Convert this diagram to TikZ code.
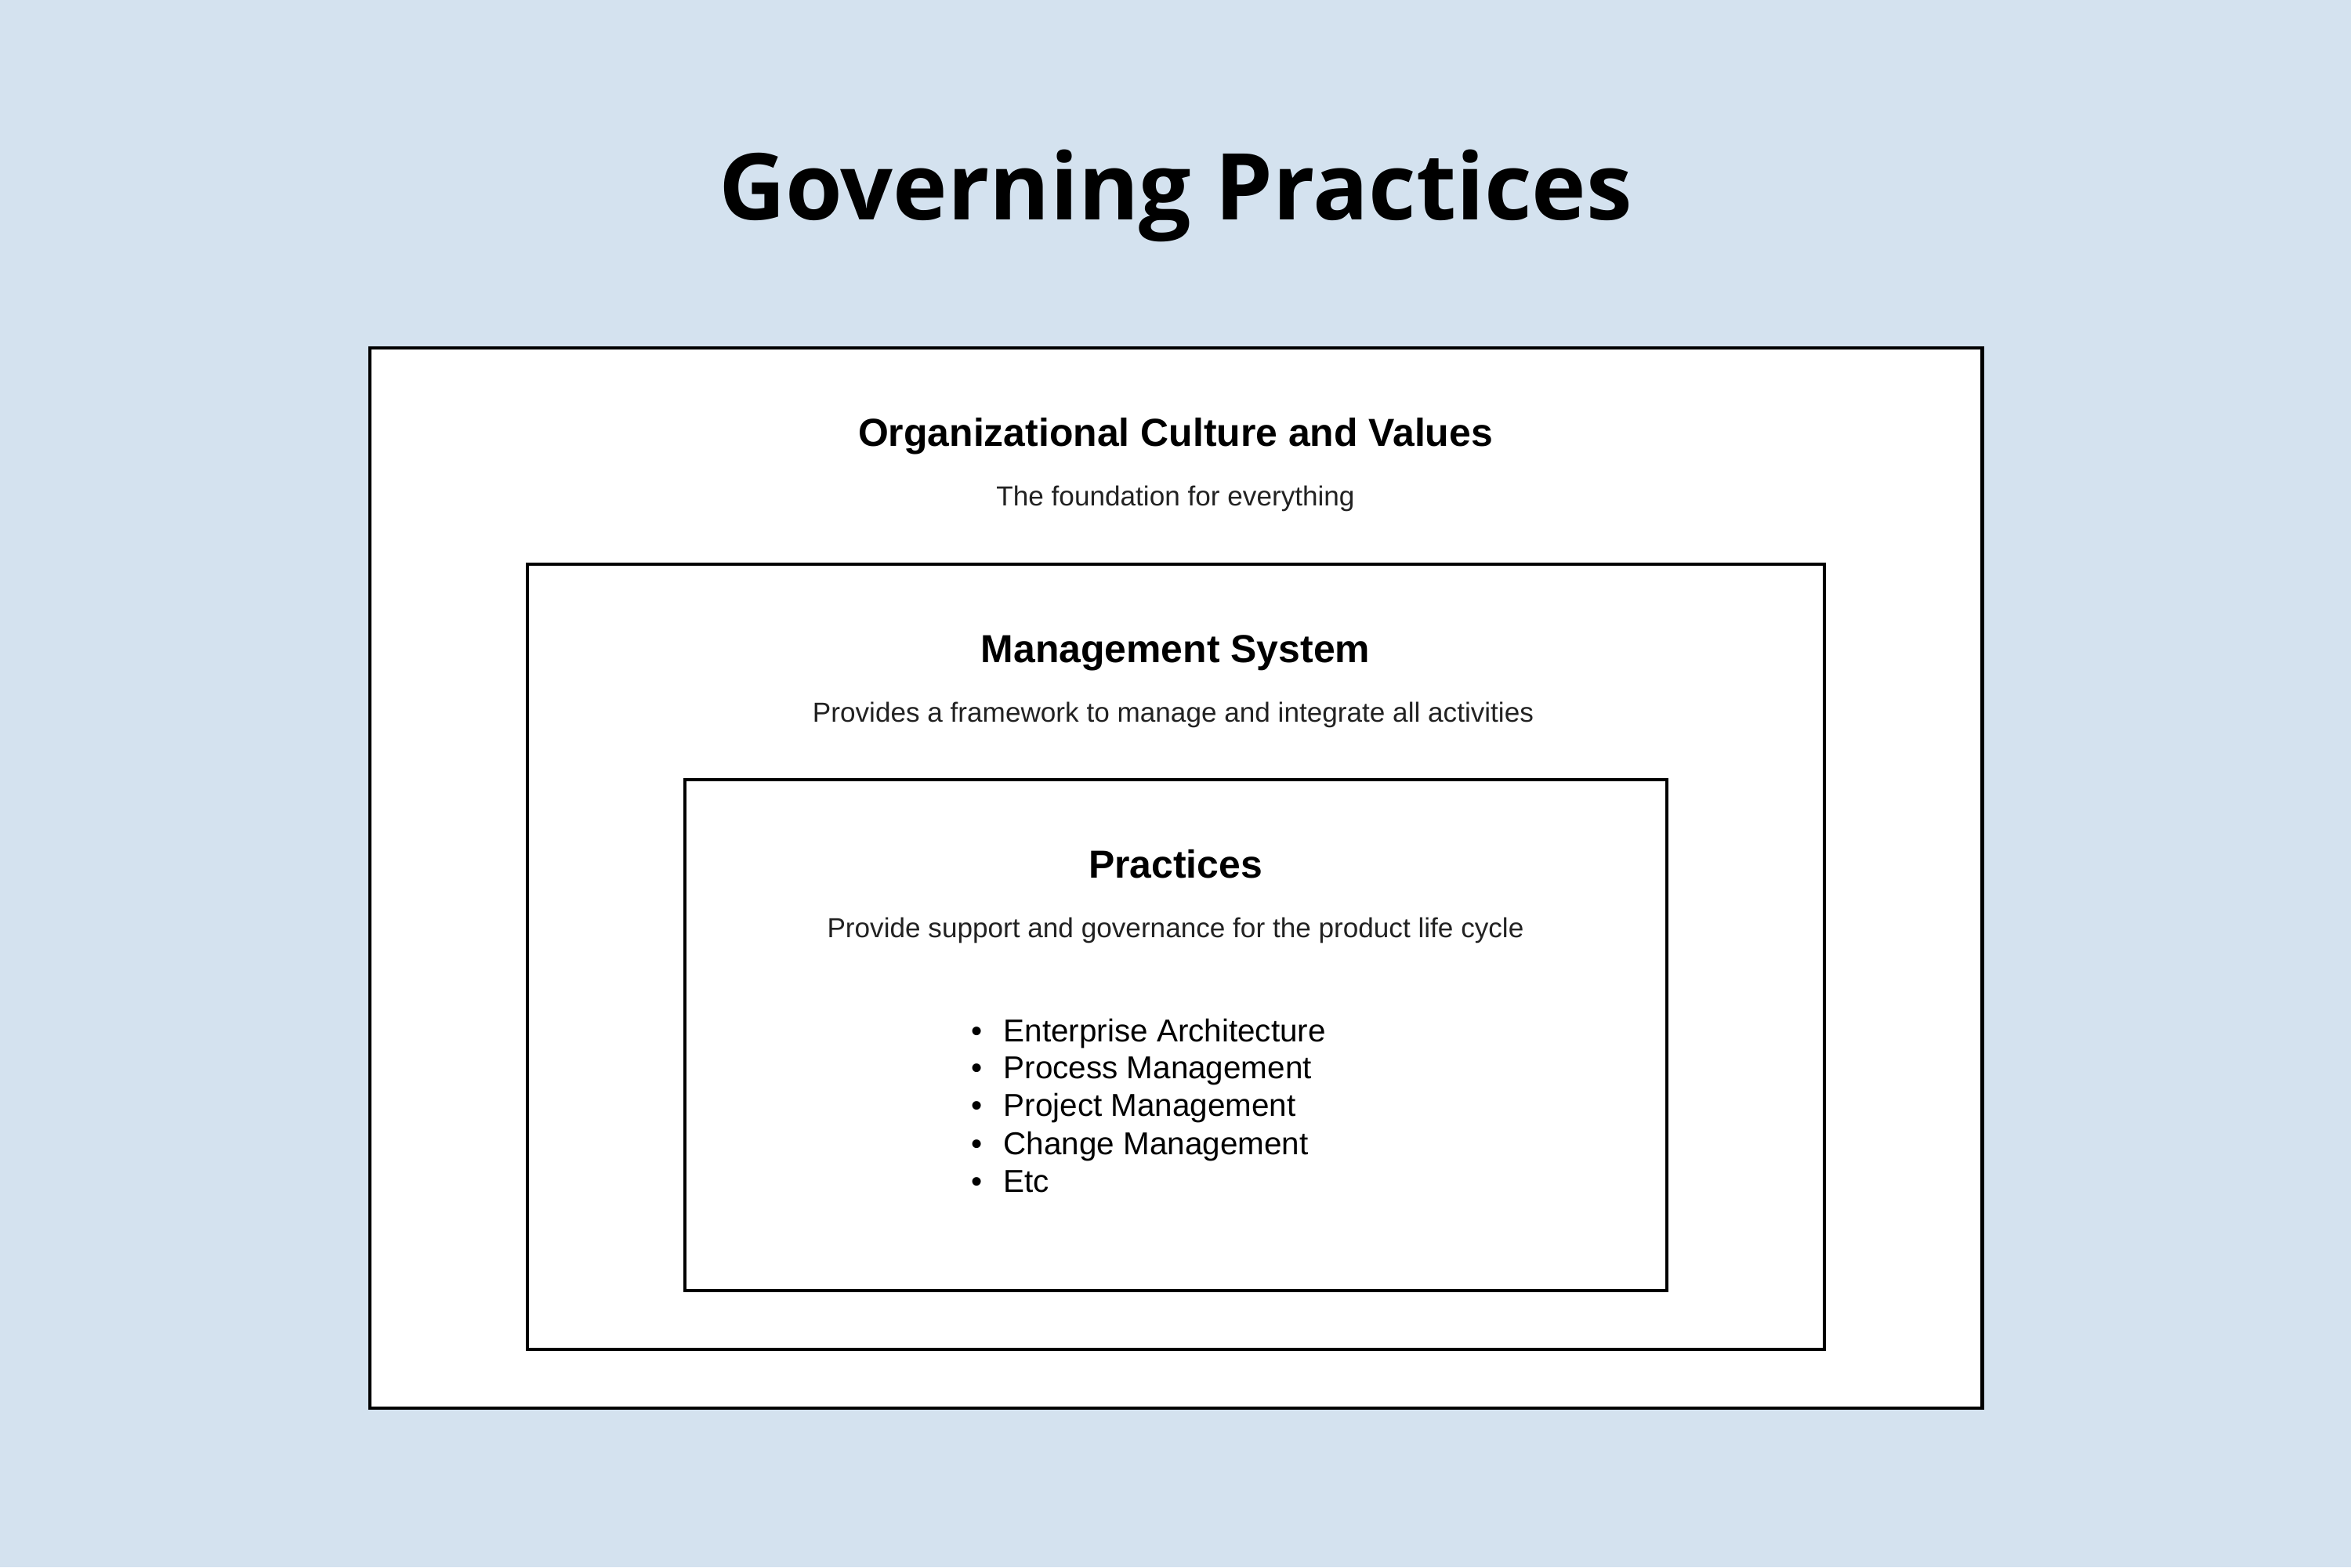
\documentclass[tikz,border=0pt]{standalone}
\usepackage{fontspec}
\setmainfont{Liberation Sans}
\newfontfamily\titlefont{Open Sans}
\usetikzlibrary{positioning}
\definecolor{bgblue}{RGB}{212,226,239}
\definecolor{subgray}{RGB}{34,34,34}
\tikzset{
  layer/.style={draw=black,fill=white,line width=1.4pt},
  head/.style={anchor=base,font=\fontsize{14.2}{16}\selectfont\bfseries,inner sep=0pt},
  sub/.style={anchor=base,font=\fontsize{10}{12}\selectfont,text=subgray,inner sep=0pt},
  item/.style={anchor=base west,font=\fontsize{11.5}{13}\selectfont,inner sep=0pt}
}
\begin{document}
\begin{tikzpicture}
        %Background
        \fill[bgblue] (0,0) rectangle (30,20);
        \useasboundingbox (0,0) rectangle (30,20);
        %Title
        \node[anchor=base,inner sep=0pt,font=\titlefont\fontsize{33.5}{40}\selectfont\bfseries] (title) at (15,17.19) {Governing Practices};
        %Layers
        \draw[layer] (4.72,2.03) rectangle (25.29,15.56);
        \draw[layer] (6.73,2.78) rectangle (23.28,12.80);
        \draw[layer] (8.74,3.53) rectangle (21.27,10.05);
        %Headings
        \node[head] (culture) at (15,14.30) {Organizational Culture and Values};
        \node[sub] (culturesub) at (15,13.54) {The foundation for everything};
        \node[head] (mgmt) at (15,11.54) {Management System};
        \node[sub] (mgmtsub) at (14.97,10.78) {Provides a framework to manage and integrate all activities};
        \node[head] (prac) at (15,8.79) {Practices};
        \node[sub] (pracsub) at (15,8.03) {Provide support and governance for the product life cycle};
        %List
        \foreach \t [count=\i] in {Enterprise Architecture,Process Management,Project Management,Change Management,Etc}{
          \node[item] (li\i) at (12.80,{6.71-0.48*(\i-1)}) {\t};
          \node[item,anchor=base] (bu\i) at (12.47,{6.71-0.48*(\i-1)}) {\textbullet};
        }
      \end{tikzpicture}
\end{document}
